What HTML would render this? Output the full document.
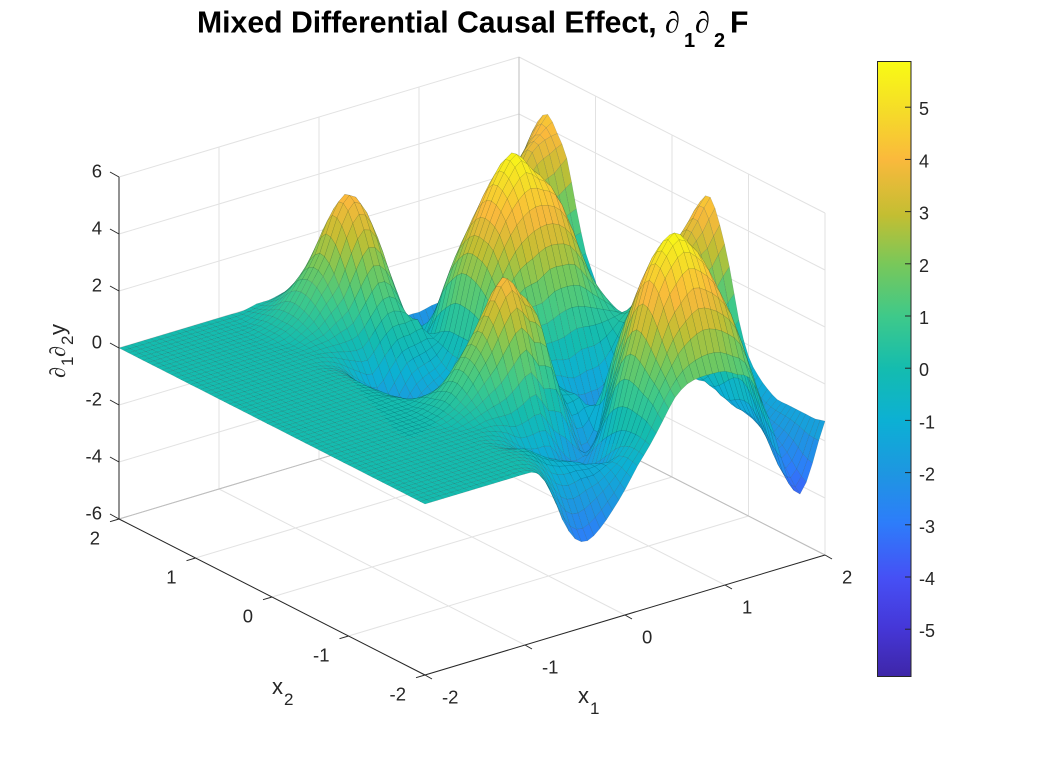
<!DOCTYPE html>
<html lang="en">
<head>
<meta charset="utf-8">
<title>Mixed Differential Causal Effect</title>
<style>
html,body{margin:0;padding:0;background:#fff;width:1040px;height:760px;overflow:hidden}
svg{display:block}
text{font-family:"Liberation Sans",sans-serif;fill:#262626}
.sym{font-family:"Liberation Serif",serif;font-style:italic}
</style>
</head>
<body>
<svg id="chart" xmlns="http://www.w3.org/2000/svg" width="1040" height="760" viewBox="0 0 1040 760">
  <rect width="1040" height="760" fill="#fff"/>
  <g id="grid" fill="none" stroke="#e2e2e2" stroke-width="1"></g>
  <g id="surface"></g>
  <g id="axes" fill="none" stroke="#262626" stroke-width="1"></g>
  <g id="labels" font-size="18.5"></g>

  <g>
    <text x="197" y="32.5" font-size="30.2" font-weight="700" style="fill:#000">Mixed Differential Causal Effect,</text>
    <text class="sym" x="665" y="32.5" font-size="30" style="fill:#000">∂</text>
    <text x="684" y="47" font-size="20" font-weight="700" style="fill:#000">1</text>
    <text class="sym" x="695" y="32.5" font-size="30" style="fill:#000">∂</text>
    <text x="714" y="47" font-size="20" font-weight="700" style="fill:#000">2</text>
    <text x="730" y="32.5" font-size="30.2" font-weight="700" style="fill:#000">F</text>
  </g>

  <g transform="translate(65,378) rotate(-90)">
    <text class="sym" x="0" y="0" font-size="22">∂</text>
    <text x="12" y="8" font-size="17">1</text>
    <text class="sym" x="21" y="0" font-size="22">∂</text>
    <text x="33" y="8" font-size="17">2</text>
    <text x="43" y="0" font-size="22">y</text>
  </g>
  <g>
    <text x="272" y="694" font-size="22">x</text>
    <text x="284" y="705" font-size="17">2</text>
  </g>
  <g>
    <text x="578" y="703" font-size="22">x</text>
    <text x="590" y="714" font-size="17">1</text>
  </g>

  <defs>
    <linearGradient id="parulaGrad" x1="0" y1="1" x2="0" y2="0">
      <stop offset="0" stop-color="#3e26a8"/><stop offset=".08" stop-color="#4537d8"/>
      <stop offset=".16" stop-color="#4650f5"/><stop offset=".25" stop-color="#2d7dfa"/>
      <stop offset=".33" stop-color="#1e96e1"/><stop offset=".415" stop-color="#0cb0d4"/>
      <stop offset=".5" stop-color="#14bcaf"/><stop offset=".585" stop-color="#3ec98a"/>
      <stop offset=".67" stop-color="#78c85a"/><stop offset=".75" stop-color="#c3be32"/>
      <stop offset=".84" stop-color="#fab93c"/><stop offset=".92" stop-color="#f5dc28"/>
      <stop offset="1" stop-color="#f9fb14"/>
    </linearGradient>
  </defs>
  <rect x="877.5" y="61.5" width="33.5" height="615" fill="url(#parulaGrad)" stroke="#262626" stroke-width="1"/>
  <g id="cbticks" font-size="18"></g>
</svg>
<script>
const NS = "http://www.w3.org/2000/svg";
const x1Ticks = [-2, -1, 0, 1, 2];
const x2Ticks = [-2, -1, 0, 1, 2];
const zTicks = [-6, -4, -2, 0, 2, 4, 6];
const colorbarTicks = [-5, -4, -3, -2, -1, 0, 1, 2, 3, 4, 5];
const x1Samples = [-2,-1.875,-1.75,-1.625,-1.5,-1.375,-1.25,-1.125,-1,-.875,-.75,-.625,-.5,-.375,-.25,-.125,0,.125,.25,.375,.5,.625,.75,.875,1,1.125,1.25,1.375,1.5,1.625,1.75,1.875,2];
const x2Samples = [-2,-1.875,-1.75,-1.625,-1.5,-1.375,-1.25,-1.125,-1,-.875,-.75,-.625,-.5,-.375,-.25,-.125,0,.125,.25,.375,.5,.625,.75,.875,1,1.125,1.25,1.375,1.5,1.625,1.75,1.875,2];
// z height: one row per x1 sample, one column per x2 sample
const zValues = [
[0,0,0,0,0,0,0,0,0,0,0,0,0,0,0,0,0,0,0,0,0,0,0,0,0,0,0,0,0,0,0,0,0],
[0,0,0,0,0,0,0,0,0,0,0,0,0,0,0,0,0,0,0,0,0,0,0,0,0,0,0,0,0,0,0,0,0],
[0,0,0,0,0,0,0,0,0,0,0,0,0,0,0,0,0,0,0,0,0,0,0,0,0,0,0,0,0,0,0,0,0],
[0,0,0,0,0,0,0,0,0,0,0,0,0,0,0,0,0,0,0,0,0,0,0,0,0,0,0,0,0,0,0,0,0],
[0,0,0,0,0,0,0,0,0,0,0,0,0,0,0,0,0,0,0,0,0,0,0,0,0,0,0,0,0,0,0,0,0],
[0,0,0,0,0,0,0,0,0,0,0,0,0,0,0,0,0,0,0,0,0,0,0,0,0,0,0,0,0,0,0,0,0],
[0,0,0,0,0,0,0,0,0,0,0,0,0,0,0,0,0,0,0,0,0,0,0,0,0,0,0,0,0,0,0,0,0],
[0,0,0,0,0,0,0,0,0,0,0,0,0,0,0,0,0,0,0,0,0,0,0,0,0,0,0,0,0,0,0,0,0],
[0,0,0,0,0,0,0,0,0,0,0,0,0,0,0,0,0,0,0,0,0,0,0,0,0,0,0,0,0,0,0,0,0],
[-.1,-.1,0,0,0,0,0,0,0,0,.1,.1,.1,0,0,0,-.1,-.1,-.1,-.1,-.1,-.1,-.1,0,0,0,0,.1,.1,.1,0,0,0],
[-.8,-.4,-.2,-.1,-.1,-.2,-.1,0,0,.2,.3,.4,.3,.2,0,-.2,-.3,-.4,-.5,-.6,-.5,-.4,-.3,-.1,0,.1,.2,.3,.3,.3,.2,.1,0],
[-2.0,-1.2,-.6,-.3,-.2,-.4,-.3,-.1,.1,.4,.7,.9,.8,.4,0,-.4,-.8,-1.1,-1.3,-1.4,-1.3,-1.1,-.7,-.3,0,.2,.5,.7,.8,.7,.4,.2,.1],
[-2.8,-2.0,-1.2,-.7,-.5,-.7,-.7,-.3,.1,.7,1.3,1.6,1.5,.8,0,-.6,-1.2,-1.6,-1.9,-2.0,-1.9,-1.6,-1.1,-.5,0,.5,1.0,1.4,1.5,1.3,.8,.4,.1],
[-3.0,-2.2,-1.4,-.9,-.8,-1.1,-1.1,-.6,.1,1.0,1.9,2.4,2.2,1.2,.1,-.8,-1.5,-2.0,-2.4,-2.6,-2.5,-2.1,-1.4,-.6,.1,.8,1.5,2.1,2.3,1.9,1.2,.6,.2],
[-2.7,-2.0,-1.3,-1.0,-1.0,-1.4,-1.3,-.6,.3,1.5,2.7,3.4,3.0,1.9,.6,-.5,-1.2,-1.8,-2.1,-2.2,-2.0,-1.6,-.9,-.1,.6,1.5,2.5,3.3,3.5,2.8,1.7,.8,.3],
[-2.2,-1.7,-1.3,-1.1,-1.2,-1.6,-1.4,-.6,.5,1.9,3.2,4.05,3.7,2.4,1.0,-.1,-.9,-1.4,-1.7,-1.7,-1.5,-1.0,-.4,.3,1.1,2.1,3.2,4.0,4.1,3.2,2.0,1.0,.4],
[-1.6,-1.3,-1.1,-1.2,-1.6,-2.0,-2.0,-1.3,-.2,1.2,2.6,3.4,3.2,2.2,.9,-.1,-.8,-1.2,-1.4,-1.4,-1.2,-.8,-.3,.3,1.0,1.8,2.8,3.5,3.6,2.8,1.8,.9,.4],
[-.9,-.8,-.9,-1.3,-1.8,-2.2,-2.4,-1.9,-.4,1.0,2.2,2.8,2.5,1.7,.7,-.1,-.6,-.9,-1.0,-1.0,-.9,-.6,-.2,.3,.2,.8,1.5,2.1,2.5,2.1,1.4,.8,.4],
[-.3,-.2,-.2,-.3,-.6,-1.0,-1.5,-1.9,-1.4,-.3,.3,1.2,1.5,1.1,.5,0,-.2,-.2,0,.1,.1,.1,-.1,-.4,-.8,-.9,-.6,-.3,0,.1,.1,.1,0],
[.4,.8,1.0,1.2,1.2,.7,-.4,-1.4,-2.2,-1.4,-.7,-.3,0,.1,.1,.1,.4,.9,1.4,1.8,2.0,2.0,1.6,1.0,0,-.5,-.7,-.7,-.7,-.7,-.8,-.9,-1.0],
[1.1,1.6,2.1,2.6,2.8,2.3,1.2,0,-1.5,-1.2,-.6,-.6,-.6,-.5,-.3,.1,.6,1.5,2.3,3.0,3.2,3.2,2.8,2.1,1.0,-.3,-.9,-1.4,-1.8,-2.0,-2.1,-2.1,-2.0],
[1.45,2.3,3.2,4.1,4.4,3.9,3.0,2.0,.8,-.4,-1.3,-1.7,-1.7,-1.4,-1.0,-.3,.7,1.9,3.0,3.9,4.3,4.3,3.8,2.9,1.8,.7,-.9,-1.5,-2.2,-2.6,-2.8,-2.8,-2.6],
[1.55,2.7,3.8,4.9,5.3,4.9,3.9,2.7,1.4,-.2,-1.9,-2.3,-2.3,-1.9,-1.3,-.4,.7,2.0,3.4,4.5,5.1,5.2,4.6,3.5,2.2,.9,-.4,-1.5,-2.4,-2.9,-3.0,-2.9,-2.1],
[1.55,2.9,4.2,5.3,5.8,5.3,4.3,2.9,1.3,-.5,-2.0,-2.7,-2.8,-2.4,-1.6,-.5,.9,2.3,3.6,4.8,5.6,5.7,5.0,3.8,2.4,1.0,-.4,-1.5,-2.4,-2.9,-3.0,-2.8,-1.9],
[1.5,2.8,4.0,5.0,5.4,5.0,4.0,2.6,.9,-.9,-2.3,-2.9,-3.0,-2.6,-1.6,-.3,1.0,2.3,3.6,4.6,5.1,5.1,4.4,3.3,2.0,.7,-.6,-1.6,-2.4,-2.8,-2.9,-2.7,-1.9],
[1.25,2.5,3.6,4.4,4.7,4.4,3.5,2.0,.3,-1.3,-2.5,-3.0,-3.0,-2.5,-1.5,-.3,.9,2.2,3.3,4.3,4.6,4.5,3.7,2.5,1.4,.3,-.8,-1.7,-2.3,-2.6,-2.7,-2.5,-1.8],
[1.0,2.0,2.9,3.3,3.4,3.2,2.3,1.0,-.3,-1.2,-1.7,-1.8,-1.7,-1.4,-.8,-.1,.7,1.6,2.6,3.3,3.5,3.3,2.6,1.5,.4,-.3,-.8,-1.0,-1.2,-1.4,-1.5,-1.6,-1.7],
[0,.8,1.5,2.0,2.2,1.9,1.1,.3,-.4,-.6,-.4,0,.4,.5,.4,.3,.5,1.0,1.4,1.6,1.7,1.6,1.0,.2,-.5,-.8,-.7,-.4,.1,.6,.3,-.7,-1.2],
[-1.3,-.9,-.3,.4,.8,.7,.2,-.4,-.7,-.4,.3,1.1,1.6,1.7,1.3,.7,.3,.4,.5,.6,.5,.3,-.1,-.4,-.5,-.3,.2,1.0,1.6,1.7,1.2,.2,-.6],
[-2.9,-2.6,-2.0,-1.4,-1.0,-1.0,-1.2,-1.2,-.9,-.2,.8,1.9,2.2,2.3,1.7,1.2,.1,-.4,-.6,-.8,-.9,-.9,-.9,-.9,-.6,.3,1.2,2.2,2.8,2.5,1.9,1.2,.2],
[-3.6,-3.2,-2.7,-2.3,-2.0,-1.8,-1.7,-1.5,-1.0,-.1,1.3,2.7,3.1,3.0,2.3,1.5,.1,-1.0,-1.5,-1.7,-1.8,-1.8,-1.7,-1.5,-.9,.2,1.4,2.7,3.6,3.4,2.6,1.7,.7],
[-2.65,-2.5,-2.2,-2.0,-1.9,-1.8,-1.7,-1.5,-.9,.2,1.8,3.0,3.8,3.6,2.7,1.6,.1,-1.3,-2.0,-2.3,-2.4,-2.4,-2.2,-1.8,-1.0,.2,1.5,2.9,3.9,3.9,3.3,2.2,1.1],
[-1.3,-1.4,-1.4,-1.4,-1.4,-1.4,-1.2,-.9,-.4,.7,2.4,3.7,4.5,4.2,3.1,1.5,-.1,-1.5,-2.3,-2.7,-2.8,-2.8,-2.5,-1.7,-.5,.3,1.7,3.3,4.0,4.5,4.1,3.2,1.8]
];

// Axis functions: data coordinates -> screen pixels (orthographic MATLAB view)
const X1_MIN = -2, X1_MAX = 2, X2_MIN = -2, X2_MAX = 2, Z_MIN = -6, Z_MAX = 6;
function project(x1, x2, z) {
  const u = (x1 - X1_MIN) / (X1_MAX - X1_MIN);
  const v = (x2 - X2_MIN) / (X2_MAX - X2_MIN);
  const h = (z - Z_MIN) / (Z_MAX - Z_MIN);
  return [425 + 400 * u - 306 * v, 675 - 120 * u - 156 * v - 342 * h];
}
function colorbarY(z) { return 368.2 - 52.2 * z; }

const colorStops = [[0,62,38,168],[.08,69,55,216],[.16,70,80,245],[.25,45,125,250],[.33,30,150,225],[.415,12,176,212],[.5,20,188,175],[.585,62,201,138],[.67,120,200,90],[.75,195,190,50],[.84,250,185,60],[.92,245,220,40],[1,249,251,20]];
function colorOf(z) {
  const t = Math.max(0, Math.min(1, (z + 5.9) / 11.8));
  for (let k = 1; k < colorStops.length; k++) {
    if (t <= colorStops[k][0]) {
      const a = colorStops[k - 1], b = colorStops[k];
      const f = (t - a[0]) / (b[0] - a[0]);
      return "rgb(" + [1, 2, 3].map(c => Math.round(a[c] + (b[c] - a[c]) * f)).join(",") + ")";
    }
  }
  return "rgb(249,251,20)";
}
function pts(list) { return list.map(p => p[0].toFixed(1) + " " + p[1].toFixed(1)).join(" L"); }

const gridG = document.getElementById("grid");
function gridLine(a, b, name, color) {
  const el = document.createElementNS(NS, "path");
  el.setAttribute("d", "M" + pts([a, b]));
  if (color) el.setAttribute("stroke", color);
  
  
  gridG.appendChild(el);
}
zTicks.forEach(z => {
  gridLine(project(-2, 2, z), project(2, 2, z), "z-gridline-back-left");
  gridLine(project(2, 2, z), project(2, -2, z), "z-gridline-back-right");
});
x1Ticks.forEach(x => {
  gridLine(project(x, -2, -6), project(x, 2, -6), "x1-gridline-floor");
  if (x > -2) gridLine(project(x, 2, -6), project(x, 2, 6), x === 2 ? "back-corner-edge" : "x1-gridline-wall", x === 2 ? "#bdbdbd" : null);
});
x2Ticks.forEach(x => {
  gridLine(project(-2, x, -6), project(2, x, -6), "x2-gridline-floor");
  if (x < 2) gridLine(project(2, x, -6), project(2, x, 6), "x2-gridline-wall");
});
gridLine(project(-2, 2, -6), project(2, 2, -6), "floor-back-edge-left", "#bdbdbd");
gridLine(project(2, 2, -6), project(2, -2, -6), "floor-back-edge-right", "#bdbdbd");

// Smooth surface rendering: the mesh is drawn at twice the sample density
const SUBDIVIDE = 2;
function spline(a, b, c, d, t) {
  return 0.5 * (2 * b + (c - a) * t + (2 * a - 5 * b + 4 * c - d) * t * t + (3 * b - a - 3 * c + d) * t * t * t);
}
function clampIndex(k, n) { return Math.max(0, Math.min(n - 1, k)); }
function surfaceZ(s, t) {
  const ni = zValues.length, nj = zValues[0].length;
  const i = Math.min(Math.floor(s), ni - 2), j = Math.min(Math.floor(t), nj - 2);
  const fs = s - i, ft = t - j;
  const col = [];
  for (let a = -1; a <= 2; a++) {
    const r = zValues[clampIndex(i + a, ni)];
    col.push(spline(r[clampIndex(j - 1, nj)], r[clampIndex(j, nj)], r[clampIndex(j + 1, nj)], r[clampIndex(j + 2, nj)], ft));
  }
  return spline(col[0], col[1], col[2], col[3], fs);
}
function sampleAt(arr, s) {
  const k = Math.min(Math.floor(s), arr.length - 2);
  return arr[k] + (arr[k + 1] - arr[k]) * (s - k);
}

const surfaceG = document.getElementById("surface");
const rows = (x1Samples.length - 1) * SUBDIVIDE;
const cols = (x2Samples.length - 1) * SUBDIVIDE;
const vertex = [];
for (let a = 0; a <= rows; a++) {
  vertex.push([]);
  for (let b = 0; b <= cols; b++) {
    const z = surfaceZ(a / SUBDIVIDE, b / SUBDIVIDE);
    vertex[a].push({ z: z, p: project(sampleAt(x1Samples, a / SUBDIVIDE), sampleAt(x2Samples, b / SUBDIVIDE), z) });
  }
}
// painted back to front
for (let a = rows - 1; a >= 0; a--) {
  for (let b = cols - 1; b >= 0; b--) {
    const q = [vertex[a][b], vertex[a + 1][b], vertex[a + 1][b + 1], vertex[a][b + 1]];
    const cell = document.createElementNS(NS, "path");
    cell.setAttribute("d", "M" + pts(q.map(o => o.p)) + "Z");
    cell.setAttribute("fill", colorOf((q[0].z + q[1].z + q[2].z + q[3].z) / 4));
    cell.setAttribute("stroke", "#0b2a2a");
    cell.setAttribute("stroke-opacity", "0.22");
    cell.setAttribute("stroke-width", "0.5");
    
    
    surfaceG.appendChild(cell);
  }
}

const axesG = document.getElementById("axes");
function axisLine(a, b, name) {
  const el = document.createElementNS(NS, "path");
  el.setAttribute("d", "M" + pts([a, b]));
  
  
  axesG.appendChild(el);
}
axisLine(project(-2, 2, -6), project(-2, 2, 6), "z-axis-line");
axisLine(project(-2, 2, -6), project(-2, -2, -6), "x2-axis-line");
axisLine(project(-2, -2, -6), project(2, -2, -6), "x1-axis-line");

const labelsG = document.getElementById("labels");
function tickLabel(parent, x, y, str, anchor, name) {
  const t = document.createElementNS(NS, "text");
  t.setAttribute("x", x);
  t.setAttribute("y", y);
  t.setAttribute("text-anchor", anchor);
  
  
  t.textContent = str;
  parent.appendChild(t);
}
zTicks.forEach(z => {
  const p = project(-2, 2, z);
  axisLine(p, [p[0] - 9, p[1] - 5], "z-tick");
  tickLabel(labelsG, p[0] - 17, p[1] + 0.5, String(z), "end", "z-tick-label");
});
x2Ticks.forEach(x => {
  const p = project(-2, x, -6);
  axisLine(p, [p[0] - 9, p[1] + 2.7], "x2-tick");
  tickLabel(labelsG, p[0] - 19, p[1] + 25.5, String(x), "end", "x2-tick-label");
});
x1Ticks.forEach(x => {
  const p = project(x, -2, -6);
  axisLine(p, [p[0] + 7, p[1] + 4], "x1-tick");
  tickLabel(labelsG, p[0] + 17, p[1] + 28.5, String(x), "start", "x1-tick-label");
});

const cbG = document.getElementById("cbticks");
colorbarTicks.forEach(v => {
  const y = colorbarY(v);
  const tick = document.createElementNS(NS, "path");
  tick.setAttribute("d", "M905 " + y + " L911 " + y);
  tick.setAttribute("stroke", "#262626");
  
  
  cbG.appendChild(tick);
  tickLabel(cbG, 919, y + 8, String(v), "start", "colorbar-tick-label");
});
</script>
</body>
</html>
